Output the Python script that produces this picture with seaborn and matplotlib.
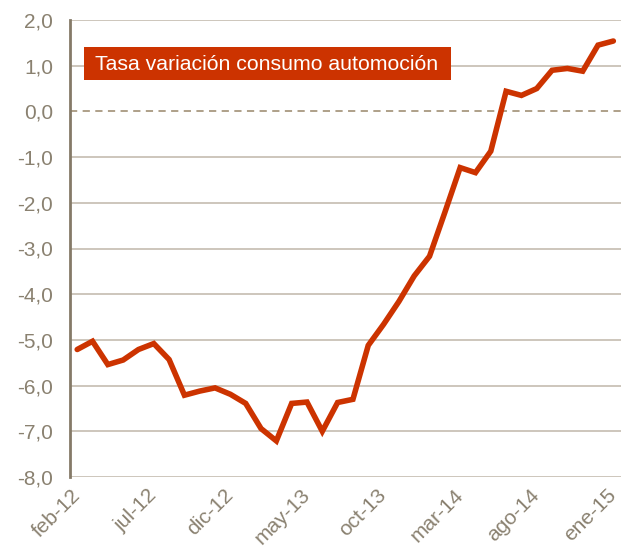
import matplotlib
matplotlib.use("Agg")
import matplotlib.pyplot as plt
import matplotlib.ticker as mticker
from matplotlib.patches import Rectangle
import seaborn as sns
import pandas as pd

months = ["feb-12", "mar-12", "abr-12", "may-12", "jun-12", "jul-12", "ago-12", "sep-12",
          "oct-12", "nov-12", "dic-12", "ene-13", "feb-13", "mar-13", "abr-13", "may-13",
          "jun-13", "jul-13", "ago-13", "sep-13", "oct-13", "nov-13", "dic-13", "ene-14",
          "feb-14", "mar-14", "abr-14", "may-14", "jun-14", "jul-14", "ago-14", "sep-14",
          "oct-14", "nov-14", "dic-14", "ene-15"]
values = [-5.21, -5.03, -5.54, -5.44, -5.21, -5.08, -5.43, -6.21, -6.12, -6.05,
          -6.19, -6.39, -6.94, -7.21, -6.39, -6.36, -7.00, -6.37, -6.30, -5.12,
          -4.66, -4.16, -3.60, -3.17, -2.21, -1.23, -1.34, -0.87, 0.44, 0.35,
          0.50, 0.90, 0.94, 0.88, 1.45, 1.54]
yticks = [2, 1, 0, -1, -2, -3, -4, -5, -6, -7, -8]
tick_step = 5
title = "Tasa variación consumo automoción"

sns.set_style("white")
plt.rcParams["font.family"] = ["Liberation Sans", "DejaVu Sans"]

df = pd.DataFrame({"idx": range(len(months)), "mes": months, "valor": values})

W, H = 621, 549
fig = plt.figure(figsize=(W / 100, H / 100), dpi=100)
ax_l, ax_b, ax_w, ax_h = 70, 477, 551, 457
ax = fig.add_axes([ax_l / W, 1 - ax_b / H, ax_w / W, ax_h / H])

grid_c = "#c9c2b6"
text_c = "#8a8170"
for v in yticks:
    if v == 0:
        continue
    ax.axhline(v, color=grid_c, lw=1.3, zorder=1)
ax.axhline(0, color="#a89880", lw=1.3, ls=(0, (4, 3)), zorder=1)

sns.lineplot(data=df, x="idx", y="valor", ax=ax, color="#cc3300", lw=4.0,
             zorder=3, solid_joinstyle="miter")

ax.set_xlim(-0.47, len(months) - 0.5)
ax.set_ylim(min(yticks), max(yticks))
ax.set_yticks(yticks)
ax.yaxis.set_major_formatter(mticker.FuncFormatter(lambda v, p: f"{v:.1f}".replace(".", ",")))
xt = list(range(0, len(months), tick_step))
ax.set_xticks(xt)
ax.set_xticklabels([months[i] for i in xt], rotation=45, ha="right", va="center",
                   rotation_mode="anchor")
ax.tick_params(axis="both", length=0, labelsize=15, colors=text_c)
ax.tick_params(axis="y", pad=12)
ax.tick_params(axis="x", pad=11)
ax.set_xlabel("")
ax.set_ylabel("")
for s in ["top", "right", "bottom"]:
    ax.spines[s].set_visible(False)
ax.spines["left"].set_color("#857a68")
ax.spines["left"].set_linewidth(2)


def fx(px):
    return (px - ax_l) / ax_w


def fy(py):
    return (ax_b - py) / ax_h


ax.add_patch(Rectangle((fx(84), fy(80)), fx(451) - fx(84), fy(47) - fy(80),
                       transform=ax.transAxes, facecolor="#cc3300", edgecolor="none",
                       zorder=4))
ax.text(fx(95), fy(70), title, transform=ax.transAxes, fontsize=15.3, color="white",
        va="baseline", ha="left", zorder=5)

fig.savefig("out.png", dpi=100)
